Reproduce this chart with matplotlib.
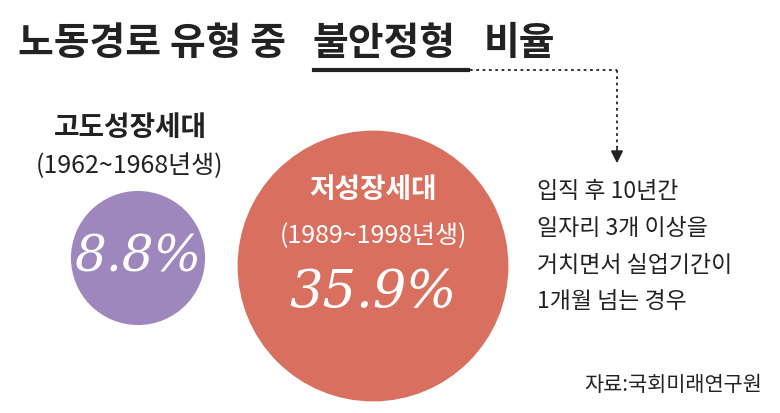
import matplotlib.pyplot as plt
from matplotlib.patches import Circle

plt.rcParams['font.family'] = ['Noto Sans CJK KR', 'DejaVu Sans']

groups = ['고도성장세대', '저성장세대']
years = ['(1962~1968년생)', '(1989~1998년생)']
shares = [8.8, 35.9]
colors = ['#9E87BC', '#D9705F']
note = ['입직 후 10년간', '일자리 3개 이상을', '거치면서 실업기간이', '1개월 넘는 경우']

fig = plt.figure(figsize=(7.8, 4.13), dpi=100)
ax = fig.add_axes([0, 0, 1, 1])
ax.set_xlim(0, 780)
ax.set_ylim(413, 0)
ax.set_aspect('equal')
ax.axis('off')

k = 22.6  # radius per sqrt(percent)
centers = [(138, 258), (373, 266)]
for (cx, cy), v, c in zip(centers, shares, colors):
    ax.add_patch(Circle((cx, cy), k * v ** 0.5, color=c, lw=0))

# title
tk = dict(fontsize=28, fontweight='bold', va='center', color='#222222')
ax.text(18, 44, '노동경로 유형 중', **tk)
ax.text(312, 44, '불안정형', **tk)
ax.text(484, 44, '비율', **tk)
ax.plot([314, 468], [70, 70], color='#222222', lw=3)
ax.plot([470, 617], [70, 70], color='#222222', lw=1.3, ls=(0, (1.5, 2)))
ax.plot([617, 617], [70, 148], color='#222222', lw=1.3, ls=(0, (1.5, 2)))
ax.annotate('', xy=(617, 166), xytext=(617, 146),
            arrowprops=dict(arrowstyle='-|>', color='#222222', lw=1.3, mutation_scale=18))

# left group
ax.text(130, 128, groups[0], fontsize=20, fontweight='bold', ha='center', va='center', color='#222222')
ax.text(130, 166, years[0], fontsize=18, ha='center', va='center', color='#222222')
ax.text(138, 258, f'{shares[0]}%', fontsize=36, style='italic', family='DejaVu Serif',
        ha='center', va='center', color='white')

# right group
ax.text(373, 190, groups[1], fontsize=20, fontweight='bold', ha='center', va='center', color='white')
ax.text(373, 236, years[1], fontsize=18, ha='center', va='center', color='white')
ax.text(373, 292, f'{shares[1]}%', fontsize=38, style='italic', family='DejaVu Serif',
        ha='center', va='center', color='white')

for i, line in enumerate(note):
    ax.text(537, 192 + i * 36.5, line, fontsize=16.5, va='center', color='#222222')

ax.text(762, 385, '자료:국회미래연구원', fontsize=15, ha='right', va='center', color='#222222')

fig.savefig('out.png', dpi=100)
